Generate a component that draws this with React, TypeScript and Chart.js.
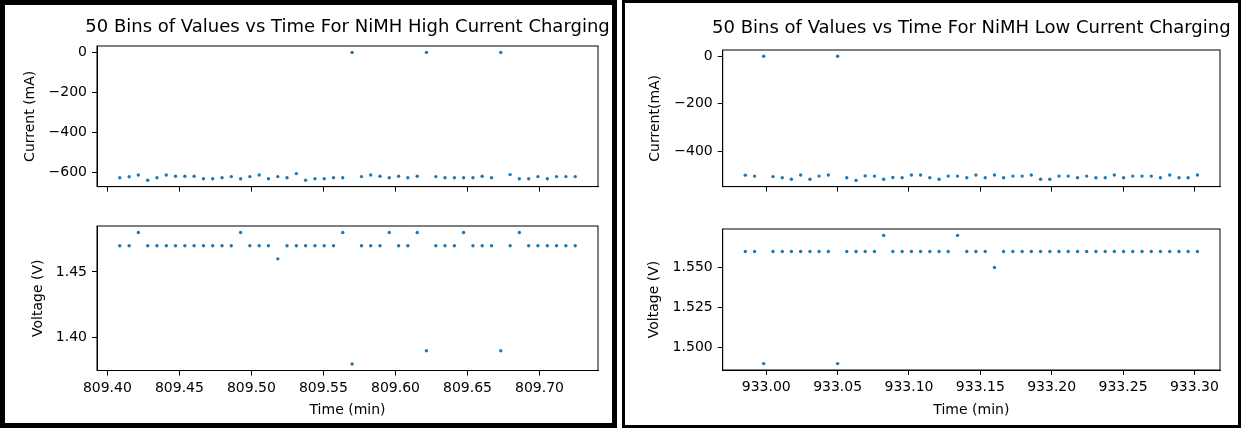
import React, { useEffect, useRef } from 'react';
import { Chart, registerables } from 'chart.js';

Chart.register(...registerables);

// ---------- data ----------
const HIGH_TITLE = '50 Bins of Values vs Time For NiMH High Current Charging';
const LOW_TITLE = '50 Bins of Values vs Time For NiMH Low Current Charging';

const HIGH_TIME = [
  809.4086, 809.4151, 809.4215, 809.4280, 809.4344, 809.4409, 809.4473, 809.4538, 809.4602, 809.4667,
  809.4731, 809.4796, 809.4860, 809.4925, 809.4989, 809.5054, 809.5118, 809.5183, 809.5247, 809.5312,
  809.5376, 809.5441, 809.5505, 809.5570, 809.5634, 809.5699, 809.5764, 809.5828, 809.5893, 809.5957,
  809.6022, 809.6086, 809.6151, 809.6215, 809.6280, 809.6344, 809.6409, 809.6473, 809.6538, 809.6602,
  809.6667, 809.6731, 809.6796, 809.6860, 809.6925, 809.6989, 809.7054, 809.7118, 809.7183, 809.7248,
];
const HIGH_CURRENT = [
  -626, -621, -612, -638, -626, -612, -618, -618, -618, -631,
  -631, -626, -620, -631, -620, -612, -631, -620, -626, -605,
  -638, -631, -631, -626, -626, 0, -620, -612, -618, -626,
  -618, -626, -618, 0, -620, -626, -626, -626, -626, -618,
  -626, 0, -610, -631, -631, -620, -631, -620, -620, -620,
];
const HIGH_VOLTAGE = [
  1.47, 1.47, 1.48, 1.47, 1.47, 1.47, 1.47, 1.47, 1.47, 1.47,
  1.47, 1.47, 1.47, 1.48, 1.47, 1.47, 1.47, 1.46, 1.47, 1.47,
  1.47, 1.47, 1.47, 1.47, 1.48, 1.38, 1.47, 1.47, 1.47, 1.48,
  1.47, 1.47, 1.48, 1.39, 1.47, 1.47, 1.47, 1.48, 1.47, 1.47,
  1.47, 1.39, 1.47, 1.48, 1.47, 1.47, 1.47, 1.47, 1.47, 1.47,
];

const LOW_TIME = [
  932.9853, 932.9918, 932.9982, 933.0047, 933.0112, 933.0176, 933.0241, 933.0306, 933.0370, 933.0435,
  933.0500, 933.0564, 933.0629, 933.0693, 933.0758, 933.0823, 933.0887, 933.0952, 933.1017, 933.1081,
  933.1146, 933.1211, 933.1275, 933.1340, 933.1405, 933.1469, 933.1534, 933.1599, 933.1663, 933.1728,
  933.1793, 933.1857, 933.1922, 933.1987, 933.2051, 933.2116, 933.2181, 933.2245, 933.2310, 933.2375,
  933.2439, 933.2504, 933.2568, 933.2633, 933.2698, 933.2762, 933.2827, 933.2892, 933.2956, 933.3021,
];
const LOW_CURRENT = [
  -501, -505, 0, -507, -512, -518, -500, -518, -505, -500,
  0, -512, -523, -504, -505, -518, -511, -512, -500, -500,
  -512, -518, -505, -505, -512, -500, -512, -500, -512, -505,
  -505, -500, -518, -518, -505, -505, -512, -505, -512, -512,
  -500, -512, -505, -505, -505, -512, -500, -512, -512, -500,
];
const LOW_VOLTAGE = [
  1.56, 1.56, 1.49, 1.56, 1.56, 1.56, 1.56, 1.56, 1.56, 1.56,
  1.49, 1.56, 1.56, 1.56, 1.56, 1.57, 1.56, 1.56, 1.56, 1.56,
  1.56, 1.56, 1.56, 1.57, 1.56, 1.56, 1.56, 1.55, 1.56, 1.56,
  1.56, 1.56, 1.56, 1.56, 1.56, 1.56, 1.56, 1.56, 1.56, 1.56,
  1.56, 1.56, 1.56, 1.56, 1.56, 1.56, 1.56, 1.56, 1.56, 1.56,
];

const HIGH_TIME_TICKS = [809.4, 809.45, 809.5, 809.55, 809.6, 809.65, 809.7];
const LOW_TIME_TICKS = [933.0, 933.05, 933.1, 933.15, 933.2, 933.25, 933.3];
const HIGH_CURRENT_TICKS = [0, -200, -400, -600];
const LOW_CURRENT_TICKS = [0, -200, -400];
const HIGH_VOLTAGE_TICKS = [1.4, 1.45];
const LOW_VOLTAGE_TICKS = [1.5, 1.525, 1.55];

// ---------- styling ----------
const FONT = "'DejaVu Sans', sans-serif";
const DOT = '#1f77b4';

const range = (arr: number[]) => {
  const lo = Math.min(...arr);
  const hi = Math.max(...arr);
  const m = (hi - lo) * 0.05;
  return { min: lo - m, max: hi + m };
};

const minusFmt = (v: number) => (v < 0 ? '\u2212' + Math.abs(v) : String(v));

const framePlugin = {
  id: 'frame',
  beforeDatasetsDraw(chart: any) {
    const { ctx, chartArea } = chart;
    ctx.save();
    ctx.strokeStyle = '#000';
    ctx.lineWidth = 1;
    ctx.strokeRect(chartArea.left, chartArea.top, chartArea.right - chartArea.left, chartArea.bottom - chartArea.top);
    ctx.restore();
  },
};

const panelTitlePlugin = {
  id: 'panelTitle',
  afterDraw(chart: any, _args: any, opts: any) {
    if (!opts || !opts.text) return;
    const { ctx, chartArea } = chart;
    ctx.save();
    ctx.font = `normal ${opts.size}px ${FONT}`;
    ctx.fillStyle = '#000';
    ctx.textAlign = 'center';
    ctx.textBaseline = 'middle';
    ctx.fillText(opts.text, (chartArea.left + chartArea.right) / 2, opts.y);
    ctx.restore();
  },
};

type Spec = {
  xs: number[];
  ys: number[];
  xTicks: number[];
  yTicks: number[];
  yFmt: (v: number) => string;
  yTitle: string;
  yTitleCenter: number;
  showXLabels: boolean;
  title?: string;
  titleY?: number;
  w: number;
  h: number;
  areaLeft: number;
  areaRight: number;
  areaTop: number;
  areaBottom: number;
  xTitleCenter?: number;
};

function buildConfig(s: Spec): any {
  const xr = range(s.xs);
  const yr = range(s.ys);
  const tickFont = { family: FONT, size: 14 };
  return {
    type: 'scatter',
    data: {
      datasets: [
        {
          data: s.xs.map((x, i) => ({ x, y: s.ys[i] })),
          backgroundColor: DOT,
          borderColor: DOT,
          borderWidth: 0,
          pointRadius: 1.7,
          showLine: false,
        },
      ],
    },
    options: {
      responsive: false,
      animation: false,
      events: [],
      layout: {
        padding: { left: 0, top: s.areaTop, right: s.w - s.areaRight, bottom: 0 },
      },
      plugins: {
        legend: { display: false },
        tooltip: { enabled: false },
        title: { display: false },
        panelTitle: { text: s.title, y: s.titleY, size: 18 },
      },
      scales: {
        x: {
          type: 'linear',
          min: xr.min,
          max: xr.max,
          afterBuildTicks: (axis: any) => {
            axis.ticks = s.xTicks.map((value) => ({ value }));
          },
          afterFit: (axis: any) => {
            axis.height = s.h - s.areaBottom;
          },
          border: { display: true, color: '#000', width: 1 },
          grid: {
            drawOnChartArea: false,
            drawTicks: true,
            tickLength: 5,
            tickColor: '#000',
            lineWidth: 1,
          },
          ticks: {
            display: s.showXLabels,
            autoSkip: false,
            maxRotation: 0,
            padding: 4,
            color: '#000',
            font: tickFont,
            callback: (v: number) => v.toFixed(2),
          },
          title: {
            display: s.showXLabels,
            text: 'Time (min)',
            color: '#000',
            font: { family: FONT, size: 14 },
            padding: { top: 0, bottom: s.xTitleCenter !== undefined ? s.h - s.xTitleCenter - 8.4 : 0 },
          },
        },
        y: {
          type: 'linear',
          min: yr.min,
          max: yr.max,
          afterBuildTicks: (axis: any) => {
            axis.ticks = s.yTicks.map((value) => ({ value }));
          },
          afterFit: (axis: any) => {
            axis.width = s.areaLeft;
          },
          border: { display: true, color: '#000', width: 1 },
          grid: {
            drawOnChartArea: false,
            drawTicks: true,
            tickLength: 5,
            tickColor: '#000',
            lineWidth: 1,
          },
          ticks: {
            autoSkip: false,
            padding: 5,
            color: '#000',
            font: tickFont,
            callback: (v: number) => s.yFmt(v),
          },
          title: {
            display: true,
            text: s.yTitle,
            color: '#000',
            font: { family: FONT, size: 14 },
            padding: { top: s.yTitleCenter - 8.4, bottom: 0 },
          },
        },
      },
    },
    plugins: [framePlugin, panelTitlePlugin],
  };
}

function PlotCanvas({ spec, left, top }: { spec: Spec; left: number; top: number }) {
  const ref = useRef<HTMLCanvasElement | null>(null);
  useEffect(() => {
    if (!ref.current) return;
    const chart = new Chart(ref.current, buildConfig(spec));
    return () => chart.destroy();
  }, []);
  return (
    <canvas
      ref={ref}
      width={spec.w}
      height={spec.h}
      style={{ position: 'absolute', left, top, width: spec.w, height: spec.h }}
    />
  );
}

const highTop: Spec = {
  xs: HIGH_TIME, ys: HIGH_CURRENT, xTicks: HIGH_TIME_TICKS, yTicks: HIGH_CURRENT_TICKS,
  yFmt: minusFmt, yTitle: 'Current (mA)', yTitleCenter: 30, showXLabels: false,
  title: HIGH_TITLE, titleY: 27,
  w: 616, h: 200, areaLeft: 97, areaRight: 598, areaTop: 46, areaBottom: 191,
};
const highBottom: Spec = {
  xs: HIGH_TIME, ys: HIGH_VOLTAGE, xTicks: HIGH_TIME_TICKS, yTicks: HIGH_VOLTAGE_TICKS,
  yFmt: (v) => v.toFixed(2), yTitle: 'Voltage (V)', yTitleCenter: 38, showXLabels: true,
  w: 616, h: 228, areaLeft: 97, areaRight: 598, areaTop: 26, areaBottom: 170.5, xTitleCenter: 210,
};
const lowTop: Spec = {
  xs: LOW_TIME, ys: LOW_CURRENT, xTicks: LOW_TIME_TICKS, yTicks: LOW_CURRENT_TICKS,
  yFmt: minusFmt, yTitle: 'Current(mA)', yTitleCenter: 35, showXLabels: false,
  title: LOW_TITLE, titleY: 28,
  w: 621, h: 200, areaLeft: 102.7, areaRight: 600, areaTop: 50, areaBottom: 191.6,
};
const lowBottom: Spec = {
  xs: LOW_TIME, ys: LOW_VOLTAGE, xTicks: LOW_TIME_TICKS, yTicks: LOW_VOLTAGE_TICKS,
  yFmt: (v) => v.toFixed(3), yTitle: 'Voltage (V)', yTitleCenter: 34, showXLabels: true,
  w: 621, h: 228, areaLeft: 102.7, areaRight: 600, areaTop: 29, areaBottom: 170, xTitleCenter: 210,
};

export default function App() {
  return (
    <div
      style={{
        position: 'absolute', left: 0, top: 0, width: 1241, height: 428,
        background: '#fff', overflow: 'hidden',
      }}
    >
      <div style={{ position: 'absolute', left: 0, top: 0, width: 617, height: 428, boxSizing: 'border-box', border: '5px solid #000' }} />
      <div style={{ position: 'absolute', left: 622, top: 0, width: 619, height: 428, boxSizing: 'border-box', border: '3px solid #000' }} />
      <PlotCanvas spec={highTop} left={0} top={0} />
      <PlotCanvas spec={highBottom} left={0} top={200} />
      <PlotCanvas spec={lowTop} left={620} top={0} />
      <PlotCanvas spec={lowBottom} left={620} top={200} />
    </div>
  );
}
